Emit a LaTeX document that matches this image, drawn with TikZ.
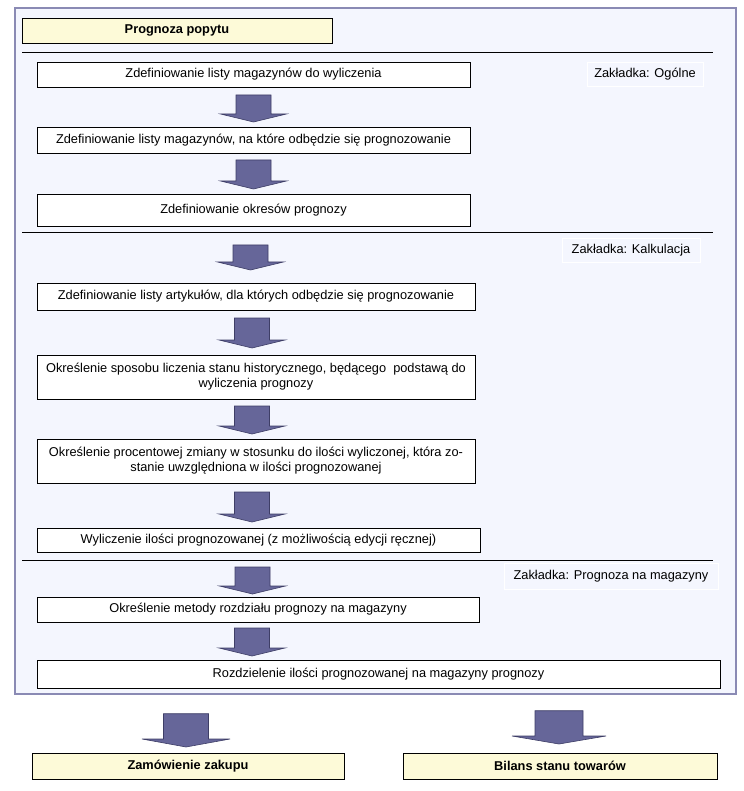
\documentclass[tikz,border=0pt]{standalone}
\usepackage{fontspec}
\setmainfont{Liberation Sans}
\usepackage{tikz}
\usetikzlibrary{calc, positioning}

\definecolor{panelfill}{HTML}{F4F6FE}
\definecolor{panelline}{HTML}{8A8AB4}
\definecolor{arrowblue}{HTML}{666699}
\definecolor{arrowline}{HTML}{3E3E66}
\definecolor{notefill}{HTML}{FDFAD8}

\tikzset{
  stepbox/.style={draw=black, line width=0.9pt, fill=white, inner sep=2pt, outer sep=0pt,
    font=\fontsize{12.8}{15}\selectfont, align=center},
  notebox/.style={stepbox, fill=notefill, font=\fontsize{12.8}{15}\selectfont\bfseries},
  tabnote/.style={draw=white, line width=0.8pt, fill=panelfill, inner sep=2pt,
    font=\fontsize{12.8}{15}\selectfont},
  arrowfill/.style={fill=arrowblue, draw=arrowline, line width=0.6pt},
  sepline/.style={draw=black, line width=1pt}
}

% block arrow: start, tip, half shaft, half head
\newcommand{\flowarrow}[4]{%
  \path[arrowfill] let \p1=(#1), \p2=(#2) in
    ({\x1-#3},\y1) -- ({\x1+#3},\y1) -- ({\x1+#3},{\y2+8pt}) -- ({\x1+#4},{\y2+8pt})
    -- (\x1,\y2) -- ({\x1-#4},{\y2+8pt}) -- ({\x1-#3},{\y2+8pt}) -- cycle;}

\begin{document}
\begin{tikzpicture}[x=1pt, y=-1pt]

\useasboundingbox (0,0) rectangle (743,791);

% panel
\node[draw=panelline, line width=1.4pt, fill=panelfill, minimum width=721, minimum height=686,
  inner sep=0pt] (panel) at (375.5, 351) {};

% nodes
\node[notebox, minimum width=310, minimum height=25] (popyt) at (177, 30.5) {Prognoza popytu};

\node[stepbox, minimum width=433, minimum height=25] (b1) at (253.5, 74.5)
  {Zdefiniowanie listy magazynów do wyliczenia};
\node[stepbox, minimum width=433, minimum height=26] (b2) at (253.5, 140)
  {Zdefiniowanie listy magazynów, na które odbędzie się prognozowanie};
\node[stepbox, minimum width=433, minimum height=32] (b3) at (253.5, 210)
  {Zdefiniowanie okresów prognozy};
\node[stepbox, minimum width=438, minimum height=27] (b4) at (256, 296.5)
  {Zdefiniowanie listy artykułów, dla których odbędzie się prognozowanie};
\node[stepbox, minimum width=438, minimum height=44] (b5) at (256, 377)
  {Określenie sposobu liczenia stanu historycznego, będącego \ podstawą do\\wyliczenia prognozy};
\node[stepbox, minimum width=438, minimum height=44] (b6) at (256, 461)
  {Określenie procentowej zmiany w stosunku do ilości wyliczonej, która zo-\\stanie uwzględniona w ilości prognozowanej};
\node[stepbox, minimum width=443, minimum height=24] (b7) at (258.5, 540)
  {Wyliczenie ilości prognozowanej (z możliwością edycji ręcznej)};
\node[stepbox, minimum width=442, minimum height=25] (b8) at (258, 609.5)
  {Określenie metody rozdziału prognozy na magazyny};
\node[stepbox, minimum width=683, minimum height=28] (b9) at (378.5, 674)
  {Rozdzielenie ilości prognozowanej na magazyny prognozy};

\node[notebox, minimum width=312, minimum height=26] (zam) at (188, 766) {Zamówienie zakupu};
\node[notebox, minimum width=314, minimum height=26] (bil) at (560, 766) {Bilans stanu towarów};

% tabs
\node[tabnote, minimum width=116, minimum height=24] (ogolne) at (645, 74) {Zakładka: Ogólne};
\node[tabnote, minimum width=138, minimum height=24] (kalk) at (631, 250) {Zakładka: Kalkulacja};
\node[tabnote, minimum width=214, minimum height=26] (pnm) at (611, 576) {Zakładka: Prognoza na magazyny};

% separators
\draw[sepline] (22, 53) -- (713, 53);
\draw[sepline] (22, 233) -- (713, 233);
\draw[sepline] (22, 560) -- (713, 560);

% arrows
\flowarrow{$(b1.south)+(0,8)$}{$(b2.north)+(0,-5)$}{17.5pt}{33pt}
\flowarrow{$(b2.south)+(0,7)$}{$(b3.north)+(0,-5)$}{17.5pt}{33pt}
\flowarrow{$(b3.south)+(-3,19)$}{$(b4.north)+(0,-13)$}{17.5pt}{33pt}
\flowarrow{$(b4.south)+(-4,8)$}{$(b5.north)+(0,-7)$}{17.5pt}{33pt}
\flowarrow{$(b5.south)+(-4,7)$}{$(b6.north)+(0,-5)$}{17.5pt}{33pt}
\flowarrow{$(b6.south)+(-4,9)$}{$(b7.north)+(0,-6)$}{17.5pt}{33pt}
\flowarrow{$(b7.south)+(-6,15)$}{$(b8.north)+(0,-3)$}{17.5pt}{33pt}
\flowarrow{$(b8.south)+(-6,6)$}{$(b9.north)+(0,-4)$}{17.5pt}{33pt}

\flowarrow{$(zam.north |- panel.south)+(-2,19)$}{$(zam.north)+(0,-6)$}{22.5pt}{44pt}
\flowarrow{$(bil.north |- panel.south)+(-1,16)$}{$(bil.north)+(0,-9)$}{24pt}{47pt}

\end{tikzpicture}
\end{document}
